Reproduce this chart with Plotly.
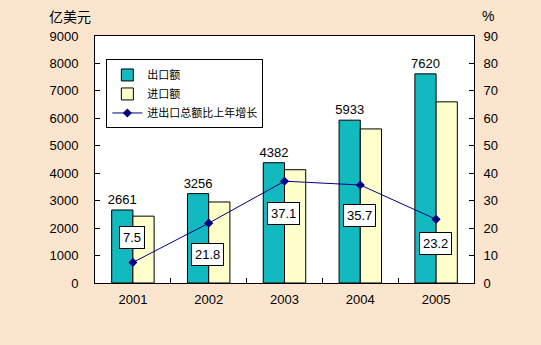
import plotly.graph_objects as go

years = ["2001", "2002", "2003", "2004", "2005"]
exports = [2661, 3256, 4382, 5933, 7620]
imports = [2436, 2952, 4128, 5614, 6601]
growth = [7.5, 21.8, 37.1, 35.7, 23.2]

# label vertical offsets (style only)
growth_label_shift = [25, -31, -32, -30, -24]

font = "Arial, Liberation Sans, Noto Sans CJK SC, sans-serif"
cjk = "Noto Sans CJK SC, sans-serif"

fig = go.Figure()
fig.add_trace(go.Bar(
    x=years, y=exports, name="出口额",
    marker=dict(color="#12B9BE", line=dict(color="black", width=1)),
    text=[str(v) for v in exports], textposition="outside",
    textfont=dict(size=13, color="black", family=font),
    constraintext="none", cliponaxis=False,
))
fig.add_trace(go.Bar(
    x=years, y=imports, name="进口额",
    marker=dict(color="#FFFFCC", line=dict(color="black", width=1)),
))
fig.add_trace(go.Scatter(
    x=years, y=growth, name="进出口总额比上年增长", yaxis="y2",
    mode="lines+markers",
    line=dict(color="#000080", width=1),
    marker=dict(symbol="diamond", size=7, color="#000080"),
))

for i, (g, s) in enumerate(zip(growth, growth_label_shift)):
    fig.add_annotation(
        x=i, y=g, yref="y2", xref="x", text=str(g), showarrow=False,
        yshift=s, xshift=-1,
        bgcolor="white", bordercolor="black", borderwidth=1, borderpad=3,
        font=dict(size=13, color="black", family=font),
    )

fig.add_annotation(x=-0.065, y=1.08, xref="paper", yref="paper", text="亿美元",
                   showarrow=False, xanchor="center", yanchor="middle",
                   font=dict(size=14, color="black", family=cjk))
fig.add_annotation(x=1.037, y=1.08, xref="paper", yref="paper", text="%",
                   showarrow=False, xanchor="center", yanchor="middle",
                   font=dict(size=14, color="black", family=font))

fig.update_layout(
    width=541, height=345,
    margin=dict(l=95, r=67, t=36, b=62),
    paper_bgcolor="#FBE5CE",
    plot_bgcolor="white",
    barmode="group", bargap=0.44, bargroupgap=0,
    showlegend=True,
    legend=dict(
        x=0.03, y=0.905, xanchor="left", yanchor="top",
        bgcolor="white", bordercolor="black", borderwidth=1,
        font=dict(size=11, color="black", family=cjk),
        tracegroupgap=0, itemwidth=30,
    ),
    xaxis=dict(
        type="category", range=[-0.5, 4.5], tickson="boundaries",
        ticks="inside", ticklen=5, ticklabelstandoff=4,
        tickcolor="black", showline=True, linecolor="black", linewidth=1,
        mirror=True, showgrid=False,
        tickfont=dict(size=13, color="black", family=font),
    ),
    yaxis=dict(
        range=[0, 9000], dtick=1000, ticks="inside", ticklen=5,
        tickcolor="black", showline=True, linecolor="black", linewidth=1,
        showgrid=False, zeroline=False, ticklabelstandoff=13,
        tickfont=dict(size=13, color="black", family=font),
    ),
    yaxis2=dict(
        overlaying="y", side="right", range=[0, 90], dtick=10,
        ticks="inside", ticklen=5, tickcolor="black",
        showline=True, linecolor="black", linewidth=1,
        showgrid=False, zeroline=False, ticklabelstandoff=6,
        tickfont=dict(size=13, color="black", family=font),
    ),
)

fig.write_html("out.html")
